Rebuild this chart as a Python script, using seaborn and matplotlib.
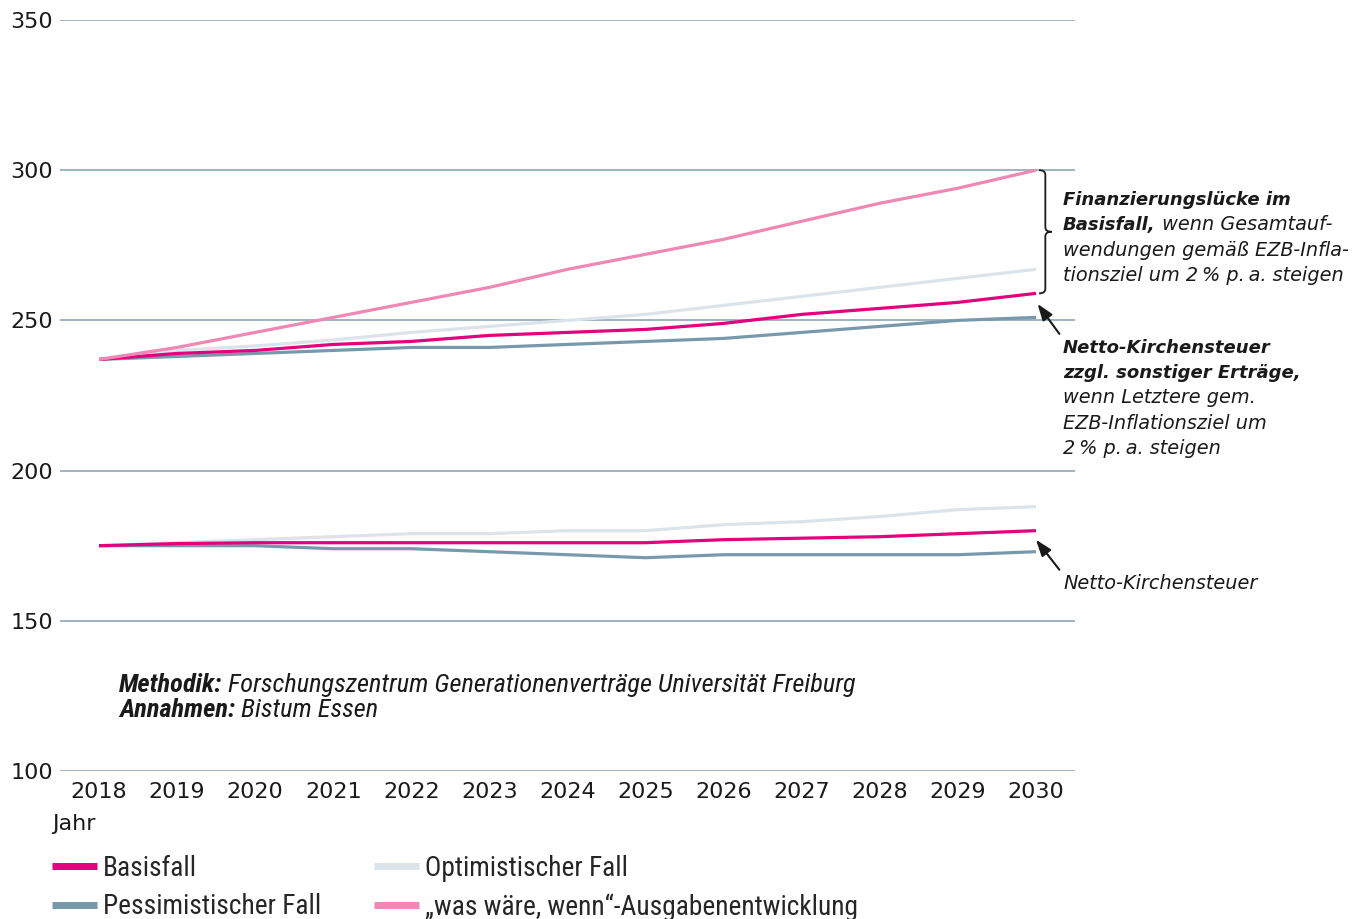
import numpy as np
import pandas as pd
import matplotlib
matplotlib.use("Agg")
import matplotlib.pyplot as plt
from matplotlib import font_manager as fm
from matplotlib.lines import Line2D
from matplotlib.path import Path
from matplotlib.patches import PathPatch
import seaborn as sns

# ---------------- data ----------------
years = [2018, 2019, 2020, 2021, 2022, 2023, 2024, 2025, 2026, 2027, 2028, 2029, 2030]

# upper group: Netto-Kirchensteuer zzgl. sonstiger Erträge
basis_upper = [237, 239, 240, 242, 243, 245, 246, 247, 249, 252, 254, 256, 259]
optim_upper = [237, 240, 241.5, 243.5, 246, 248, 250, 252, 255, 258, 261, 264, 267]
pessim_upper = [237, 238, 239, 240, 241, 241, 242, 243, 244, 246, 248, 250, 251]
waswaere = [237, 241, 246, 251, 256, 261, 267, 272, 277, 283, 289, 294, 300]

# lower group: Netto-Kirchensteuer
basis_lower = [175, 175.7, 176, 176, 176, 176, 176, 176, 177, 177.5, 178, 179, 180]
optim_lower = [175, 176, 177, 178, 179, 179, 180, 180, 182, 183, 184.7, 187, 188]
pessim_lower = [175, 175, 175, 174, 174, 173, 172, 171, 172, 172, 172, 172, 173]

labels = ["Basisfall", "Pessimistischer Fall", "Optimistischer Fall",
          "\u201ewas w\u00e4re, wenn\u201c-Ausgabenentwicklung"]
yticks = [100, 150, 200, 250, 300, 350]

colors = {
    labels[0]: "#E5007D",
    labels[1]: "#7899AC",
    labels[2]: "#DAE4EA",
    labels[3]: "#F087B5",
}

# ---------------- fonts ----------------
names = {f.name for f in fm.fontManager.ttflist}
narrow = "DejaVu Sans"
for cand in ["Roboto Condensed", "Liberation Sans Narrow", "Open Sans Condensed", "Roboto"]:
    if cand in names:
        narrow = cand
        break

sns.set_theme(style="white")
plt.rcParams["font.family"] = ["DejaVu Sans"]

W, H = 1369, 919
fig = plt.figure(figsize=(W / 100, H / 100), dpi=100)
ax = fig.add_axes([60 / W, 1 - 771 / H, (1075 - 60) / W, (771 - 20) / H])

def draw(vals, lab):
    df = pd.DataFrame({"Jahr": years, "Wert": vals})
    sns.lineplot(data=df, x="Jahr", y="Wert", color=colors[lab], linewidth=2.3,
                 ax=ax, estimator=None, solid_capstyle="butt", zorder=3)

for vals, lab in [(optim_lower, labels[2]), (pessim_lower, labels[1]), (basis_lower, labels[0]),
                  (optim_upper, labels[2]), (pessim_upper, labels[1]), (basis_upper, labels[0]),
                  (waswaere, labels[3])]:
    draw(vals, lab)

ax.set_xlim(2017.5, 2030.5)
ax.set_ylim(100, 350)
ax.set_xticks(years)
ax.set_xticklabels([str(y) for y in years])
ax.set_yticks(yticks)
ax.set_yticklabels([str(y) for y in yticks])
ax.grid(axis="y", color="#9DB4C1", linewidth=1.4, zorder=0)
ax.grid(axis="x", visible=False)
for s in ax.spines.values():
    s.set_visible(False)
ax.tick_params(axis="both", length=0, labelsize=16, labelcolor="#1a1a1a")
ax.tick_params(axis="y", pad=5)
ax.tick_params(axis="x", pad=8)
ax.set_xlabel("")
ax.set_ylabel("")

fig.text(52 / W, 1 - 824 / H, "Jahr", fontsize=16, color="#1a1a1a", va="center", ha="left")

# ---------------- brace ----------------
def brace(x0, ytop, ybot, w):
    ym = (ytop + ybot) / 2
    verts = [
        (x0 - w * 0.4, ytop), (x0, ytop), (x0, ytop - 1.5),
        (x0, ym + 1.5), (x0, ym), (x0 + w * 0.4, ym),
        (x0, ym), (x0, ym - 1.5),
        (x0, ybot + 1.5), (x0, ybot), (x0 - w * 0.4, ybot),
    ]
    codes = [Path.MOVETO, Path.CURVE3, Path.CURVE3,
             Path.LINETO, Path.CURVE3, Path.CURVE3,
             Path.CURVE3, Path.CURVE3,
             Path.LINETO, Path.CURVE3, Path.CURVE3]
    return PathPatch(Path(verts, codes), facecolor="none", edgecolor="#1a1a1a",
                     linewidth=1.3, clip_on=False, transform=ax.transData)

ax.add_patch(brace(2030.12, waswaere[-1], basis_upper[-1], 0.2))

# ---------------- arrows ----------------
arrow_kw = dict(arrowstyle="-|>,head_length=0.9,head_width=0.32", color="#1a1a1a", lw=1.5,
                mutation_scale=11, shrinkA=0, shrinkB=0)
ax.annotate("", xy=(2030.02, basis_upper[-1] - 3.5), xytext=(2030.3, 245.5),
            arrowprops=arrow_kw, annotation_clip=False)
ax.annotate("", xy=(2030.0, basis_lower[-1] - 3.0), xytext=(2030.3, 167),
            arrowprops=arrow_kw, annotation_clip=False)

# ---------------- rich text helper ----------------
fig.canvas.draw()
renderer = fig.canvas.get_renderer()

def rich_line(x_px, y_px, parts, size, family, bold_size=None):
    x = x_px
    for txt, bold in parts:
        sz = (bold_size or size) if bold else size
        t = fig.text(x / W, 1 - y_px / H, txt, fontsize=sz, style="italic",
                     weight="bold" if bold else "normal", family=family,
                     color="#1a1a1a", va="baseline", ha="left")
        bb = t.get_window_extent(renderer=renderer)
        x = bb.x1

ann_font = ["DejaVu Sans"]
lines1 = [
    [("Finanzierungsl\u00fccke im", True)],
    [("Basisfall,", True), (" wenn Gesamtauf-", False)],
    [("wendungen gem\u00e4\u00df EZB-Infla-", False)],
    [("tionsziel um 2\u2009% p.\u2009a. steigen", False)],
]
for i, parts in enumerate(lines1):
    rich_line(1063, 205 + i * 25.3, parts, 13.9, ann_font, bold_size=13)

lines2 = [
    [("Netto-Kirchensteuer", True)],
    [("zzgl. sonstiger Ertr\u00e4ge,", True)],
    [("wenn Letztere gem.", False)],
    [("EZB-Inflationsziel um", False)],
    [("2\u2009% p.\u2009a. steigen", False)],
]
for i, parts in enumerate(lines2):
    rich_line(1063, 353 + i * 25.2, parts, 13.9, ann_font, bold_size=13)

rich_line(1063, 589, [("Netto-Kirchensteuer", False)], 13.9, ann_font)

rich_line(119, 692, [("Methodik:", True),
                     (" Forschungszentrum Generationenvertr\u00e4ge Universit\u00e4t Freiburg", False)],
          19, [narrow, "DejaVu Sans"])
rich_line(119, 717, [("Annahmen:", True), (" Bistum Essen", False)],
          19, [narrow, "DejaVu Sans"])

# ---------------- legend ----------------
handles = [Line2D([0], [0], color=colors[l], linewidth=5, solid_capstyle="butt") for l in labels]
leg = fig.legend(handles, labels, loc="upper left", bbox_to_anchor=(52 / W, 1 - 855 / H),
                 ncol=2, frameon=False, handlelength=1.65, handletextpad=0.2,
                 columnspacing=1.95, labelspacing=0.42, borderpad=0, borderaxespad=0,
                 prop={"family": [narrow, "DejaVu Sans"], "size": 19.7})

fig.savefig("out.png", dpi=100)
